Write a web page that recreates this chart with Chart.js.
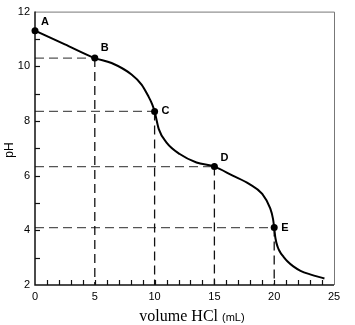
<!DOCTYPE html>
<html>
<head>
<meta charset="utf-8">
<script src="https://cdn.jsdelivr.net/npm/chart.js@4/dist/chart.umd.min.js"></script>
<style>
  html, body { margin: 0; padding: 0; background: #fff; }
  #wrap { width: 355px; height: 325px; }
</style>
</head>
<body>
<div id="wrap"><canvas id="titration"></canvas></div>
<script>
// Curva de titulación: pH frente a volumen de HCl añadido
const curveVolume = [0, 2.5, 5, 6.4, 8.07, 8.91, 9.47, 9.8, 10, 10.35, 11.0, 12.1, 13.5, 15,
                     16.53, 17.9, 19.0, 19.67, 19.9, 20, 20.1, 20.3, 20.5, 20.78, 21.1, 21.6, 22.2, 23.0, 24.2];
const curvePH = [11.3, 10.8, 10.3, 10.12, 9.7, 9.33, 8.91, 8.61, 8.35, 7.7, 7.21, 6.79, 6.48, 6.33,
                 6.0, 5.7, 5.33, 4.8, 4.42, 4.1, 3.72, 3.38, 3.2, 3.03, 2.87, 2.68, 2.52, 2.39, 2.24];

// Puntos marcados
const markLabels = ['A', 'B', 'C', 'D', 'E'];
const markVolume = [0, 5, 10, 15, 20];
const markPH = [11.3, 10.3, 8.35, 6.33, 4.1];

// Ejes
const xTicks = [0, 5, 10, 15, 20, 25];
const yTicks = [2, 4, 6, 8, 10, 12];

const X_MIN = 0, X_MAX = 25, Y_MIN = 2, Y_MAX = 12;

const curveData = curveVolume.map((v, i) => ({ x: v, y: curvePH[i] }));
const markData = markVolume.map((v, i) => ({ x: v, y: markPH[i], label: markLabels[i] }));

// Líneas de referencia discontinuas (B..E): horizontal hasta el eje y, vertical hasta el eje x
const guideSets = [];
markVolume.forEach((v, i) => {
  if (v === X_MIN) return;
  guideSets.push({
    data: [{ x: X_MIN, y: markPH[i] }, { x: v, y: markPH[i] }],
    borderColor: '#555', borderWidth: 1.3, borderDash: [9, 5],
    pointRadius: 0, fill: false, order: 3,
  });
  guideSets.push({
    data: [{ x: v, y: markPH[i] }, { x: v, y: Y_MIN }],
    borderColor: '#111', borderWidth: 1.3, borderDash: [9, 5],
    pointRadius: 0, fill: false, order: 3,
  });
});

// Marco, marcas menores hacia dentro y textos de los ejes
const framePlugin = {
  id: 'frame',
  afterDraw(chart) {
    const { ctx, chartArea: a, scales } = chart;
    const xs = scales.x, ys = scales.y;
    ctx.save();

    // bordes superior y derecho
    ctx.strokeStyle = '#777';
    ctx.lineWidth = 1;
    ctx.beginPath();
    ctx.moveTo(a.left, a.top + 0.5);
    ctx.lineTo(a.right + 0.5, a.top + 0.5);
    ctx.lineTo(a.right + 0.5, a.bottom);
    ctx.stroke();

    // bordes izquierdo e inferior
    ctx.strokeStyle = '#111';
    ctx.lineWidth = 1.5;
    ctx.beginPath();
    ctx.moveTo(a.left, a.top);
    ctx.lineTo(a.left, a.bottom);
    ctx.lineTo(a.right, a.bottom);
    ctx.stroke();

    // marcas cada unidad
    ctx.lineWidth = 1.2;
    for (let v = X_MIN + 1; v < X_MAX; v++) {
      const px = Math.round(xs.getPixelForValue(v)) + 0.5;
      ctx.beginPath();
      ctx.moveTo(px, a.bottom);
      ctx.lineTo(px, a.bottom - 5);
      ctx.stroke();
    }
    for (let v = Y_MIN + 1; v < Y_MAX; v++) {
      const py = Math.round(ys.getPixelForValue(v)) + 0.5;
      ctx.beginPath();
      ctx.moveTo(a.left, py);
      ctx.lineTo(a.left + 5, py);
      ctx.stroke();
    }

    // puntos marcados (encima del borde izquierdo)
    ctx.fillStyle = '#000';
    markData.forEach(p => {
      ctx.beginPath();
      ctx.arc(xs.getPixelForValue(p.x), ys.getPixelForValue(p.y), 3.5, 0, Math.PI * 2);
      ctx.fill();
    });

    // etiquetas de los puntos
    ctx.font = 'bold 11px "Liberation Sans", Arial, sans-serif';
    ctx.textAlign = 'left';
    ctx.textBaseline = 'middle';
    const offsets = { A: [6, -9], B: [6, -10], C: [7, 0], D: [6, -9], E: [7, 0] };
    markData.forEach(p => {
      const px = xs.getPixelForValue(p.x);
      const py = ys.getPixelForValue(p.y);
      const o = offsets[p.label];
      ctx.fillText(p.label, px + o[0], py + o[1]);
    });

    // título del eje x: "volume HCl" en serif, "(mL)" en sans
    const serif = '16px "Liberation Serif", "Times New Roman", serif';
    const sans = '11px "Liberation Sans", Arial, sans-serif';
    const part1 = 'volume HCl ';
    const part2 = '(mL)';
    ctx.font = serif;
    const w1 = ctx.measureText(part1).width;
    ctx.font = sans;
    const w2 = ctx.measureText(part2).width;
    let tx = 192 - (w1 + w2) / 2;
    ctx.textBaseline = 'alphabetic';
    ctx.font = serif;
    ctx.fillText(part1, tx, 321);
    ctx.font = sans;
    ctx.fillText(part2, tx + w1, 321);

    // título del eje y
    ctx.translate(10, 150);
    ctx.rotate(-Math.PI / 2);
    ctx.textAlign = 'center';
    ctx.textBaseline = 'middle';
    ctx.font = '12px "Liberation Sans", Arial, sans-serif';
    ctx.fillText('pH', 0, 0);

    ctx.restore();
  }
};

new Chart(document.getElementById('titration'), {
  type: 'line',
  data: {
    datasets: [
      {
        data: curveData,
        borderColor: '#000', borderWidth: 2,
        pointRadius: 0, fill: false,
        cubicInterpolationMode: 'monotone',
        order: 2,
      },
      {
        // los círculos se pintan en el plugin para que no se recorten en x = 0
        data: markData,
        showLine: false,
        pointRadius: 0,
        order: 1,
      },
      ...guideSets,
    ],
  },
  options: {
    responsive: true,
    maintainAspectRatio: false,
    animation: false,
    layout: { padding: { top: 10, right: 21, left: 0, bottom: 0 } },
    plugins: {
      legend: { display: false },
      tooltip: { enabled: false },
    },
    scales: {
      x: {
        type: 'linear',
        min: X_MIN, max: X_MAX,
        grid: { display: false, drawTicks: false },
        border: { display: false },
        afterBuildTicks: s => { s.ticks = xTicks.map(v => ({ value: v })); },
        afterFit: s => { s.height = 40; },
        ticks: {
          color: '#000', padding: 5,
          font: { family: '"Liberation Sans", Arial, sans-serif', size: 11 },
        },
      },
      y: {
        type: 'linear',
        min: Y_MIN, max: Y_MAX,
        grid: { display: false, drawTicks: false },
        border: { display: false },
        afterBuildTicks: s => { s.ticks = yTicks.map(v => ({ value: v })); },
        afterFit: s => { s.width = 35; },
        ticks: {
          color: '#000', padding: 5,
          font: { family: '"Liberation Sans", Arial, sans-serif', size: 11 },
        },
      },
    },
  },
  plugins: [framePlugin],
});
</script>
</body>
</html>
